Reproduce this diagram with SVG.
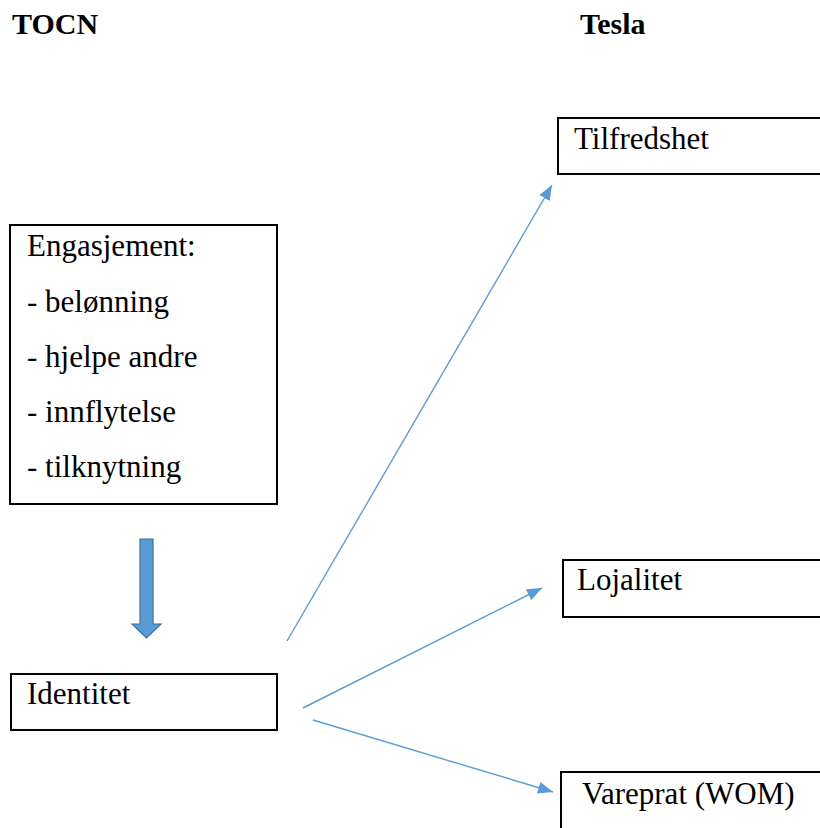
<svg xmlns="http://www.w3.org/2000/svg" width="820" height="828" viewBox="0 0 820 828">
<style>
text{font-family:'Liberation Serif','DejaVu Serif',serif}
.t{font-size:31px;fill:#000}
.h{font-size:30px;font-weight:bold;fill:#000}
.box{fill:#fff;stroke:#000;stroke-width:2}
.c{stroke:#5B9BD5;stroke-width:1.4;fill:none}
</style>
<defs>
<marker id="ah" markerUnits="userSpaceOnUse" markerWidth="16" markerHeight="12" refX="15" refY="6" orient="auto">
<path d="M0,0 L15,6 L0,12 Z" fill="#5B9BD5"/>
</marker>
</defs>
<rect width="820" height="828" fill="#fff"/>
<text class="h" x="12" y="34" font-family="Liberation Serif, serif">TOCN</text>
<text class="h" x="580" y="34" font-family="Liberation Serif, serif">Tesla</text>
<g id="tilfredshet">
<rect class="box" x="558" y="118" width="280" height="56"/>
<text class="t" x="574" y="149">Tilfredshet</text>
</g>
<g id="engasjement">
<rect class="box" x="10" y="225" width="267" height="279"/>
<text class="t" x="27" y="256">Engasjement:</text>
<text class="t" x="27" y="312">- belønning</text>
<text class="t" x="27" y="367">- hjelpe andre</text>
<text class="t" x="27" y="422">- innflytelse</text>
<text class="t" x="27" y="477">- tilknytning</text>
</g>
<g id="arrow-down">
<path d="M140,539 L153,539 L153,624 L161,624 L146.5,638 L132,624 L140,624 Z" fill="#5B9BD5" stroke="#41719C" stroke-width="1.2"/>
</g>
<g id="identitet">
<rect class="box" x="11" y="674" width="266" height="56"/>
<text class="t" x="27" y="704">Identitet</text>
</g>
<g id="lojalitet">
<rect class="box" x="563" y="560" width="280" height="57"/>
<text class="t" x="577" y="590">Lojalitet</text>
</g>
<g id="vareprat">
<rect class="box" x="561" y="772" width="280" height="80"/>
<text class="t" x="582" y="804">Vareprat (WOM)</text>
</g>
<g id="connectors">
<line class="c" x1="287" y1="641" x2="552" y2="185" marker-end="url(#ah)"/>
<line class="c" x1="303" y1="708" x2="542" y2="588" marker-end="url(#ah)"/>
<line class="c" x1="313" y1="720" x2="553" y2="792" marker-end="url(#ah)"/>
</g>
</svg>
